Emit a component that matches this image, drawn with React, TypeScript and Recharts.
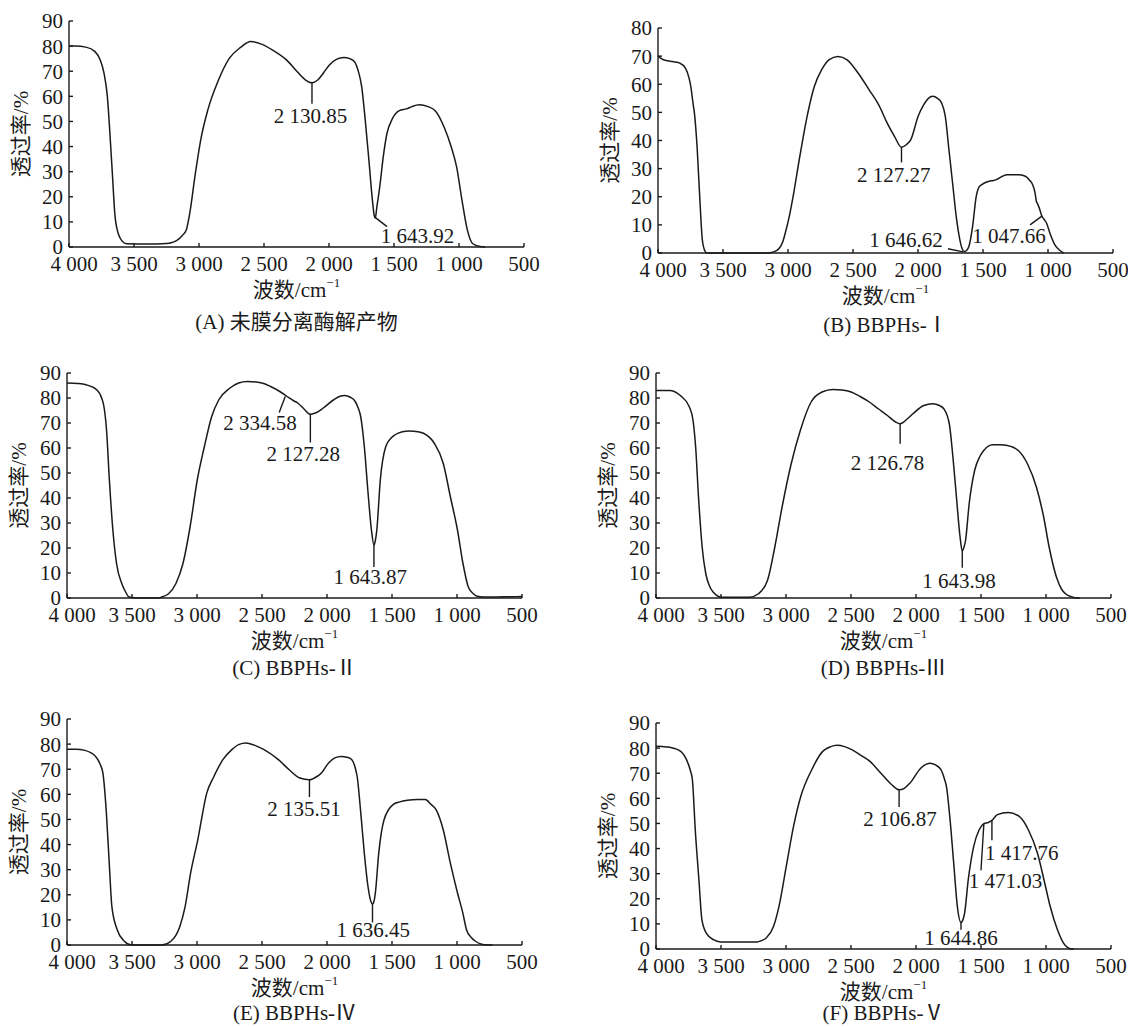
import { LineChart, Line, XAxis, YAxis, ReferenceLine, ReferenceDot, Label } from "recharts";
import type { CSSProperties } from "react";

const FONT = '"Liberation Serif", "Times New Roman", "Noto Sans CJK SC", serif';
const INK = "#1a1a1a";

const X_TICKS = [4000, 3500, 3000, 2500, 2000, 1500, 1000, 500];
const Y_TICKS_90 = [0, 10, 20, 30, 40, 50, 60, 70, 80, 90];
const Y_TICKS_80 = [0, 10, 20, 30, 40, 50, 60, 70, 80];

// (A) 未膜分离酶解产物
const wavesA = [4000, 3950, 3870, 3800, 3760, 3730, 3705, 3685, 3665, 3648, 3625, 3606, 3580, 3556, 3400, 3250, 3207, 3170, 3130, 3098, 3071, 3028, 2987, 2932, 2850, 2767, 2680, 2602, 2520, 2437, 2327, 2244, 2180, 2131, 2087, 2040, 1997, 1940, 1887, 1840, 1804, 1776, 1748, 1721, 1693, 1666, 1652, 1644, 1632, 1610, 1583, 1555, 1514, 1459, 1404, 1362, 1307, 1238, 1183, 1114, 1059, 1018, 977, 935, 894, 839, 798];
const transA = [80, 80, 79.6, 77.8, 74.5, 69, 60, 45, 28, 13.5, 6, 3.5, 1.8, 1.3, 1.2, 1.4, 1.8, 2.6, 4.5, 6.8, 13.5, 29.3, 42.6, 54.6, 66.5, 75.1, 79.5, 81.8, 80.8, 78.5, 74.5, 69.8, 66.5, 65.4, 66.5, 69.5, 72.5, 74.8, 75.5, 75, 73.8, 70.3, 63.7, 50.4, 34.5, 18.6, 12.5, 11.5, 15.9, 23.8, 35.8, 45, 50.9, 54.3, 55, 55.9, 56.6, 55.9, 54.3, 47.7, 39.7, 31.8, 18.6, 6.6, 1.3, 0.2, 0];

// (B) BBPHs-Ⅰ
const wavesB = [4000, 3958, 3880, 3832, 3790, 3760, 3748, 3730, 3720, 3698, 3678, 3659, 3640, 3625, 3150, 3119, 3077, 3040, 3021, 2990, 2965, 2909, 2853, 2797, 2741, 2685, 2615, 2545, 2461, 2377, 2300, 2237, 2181, 2127, 2090, 2055, 1999, 1957, 1920, 1887, 1850, 1818, 1790, 1762, 1734, 1706, 1678, 1660, 1645, 1625, 1608, 1580, 1552, 1530, 1510, 1454, 1420, 1398, 1350, 1314, 1230, 1174, 1140, 1118, 1100, 1090, 1078, 1062, 1049, 1030, 1010, 985, 946, 910, 880];
const transB = [70, 68.7, 68, 67.5, 65.8, 62, 59.3, 53, 49.8, 36.7, 19, 4.7, 0.8, 0, 0, 0.3, 1.2, 4, 7.1, 13, 19, 34.4, 48.6, 59.3, 65.2, 68.7, 69.9, 68.7, 64, 58.1, 52.5, 46.2, 41.5, 37.6, 38.5, 40.3, 48.6, 52.7, 55, 55.7, 55, 53.3, 48.6, 36.7, 24.9, 13, 4.7, 1.5, 0.5, 1, 2.4, 9.5, 20.1, 23.5, 24.3, 25.5, 25.8, 26.1, 27.3, 27.8, 27.8, 27.3, 25.8, 24.3, 21.5, 18.5, 17.3, 15.3, 13.3, 12, 10.5, 7, 2.8, 1, 0];

// (C) BBPHs-Ⅱ
const wavesC = [4000, 3920, 3854, 3771, 3730, 3716, 3696, 3674, 3647, 3619, 3578, 3550, 3522, 3450, 3301, 3260, 3219, 3163, 3108, 3053, 2998, 2943, 2887, 2832, 2749, 2680, 2611, 2501, 2430, 2363, 2307, 2260, 2225, 2175, 2128, 2080, 2031, 1948, 1900, 1865, 1820, 1783, 1760, 1741, 1713, 1686, 1658, 1639, 1628, 1617, 1590, 1548, 1510, 1479, 1420, 1369, 1300, 1258, 1175, 1106, 1051, 996, 954, 913, 870, 844, 800, 700, 600, 500];
const transC = [86, 85.8, 85.3, 83.3, 79.5, 76.6, 67.3, 47.2, 27.1, 13.8, 5.7, 2.5, 0.4, 0, 0, 0.6, 1.7, 5.7, 13.8, 28.5, 47.2, 60.6, 72.6, 79.3, 83.9, 86, 86.6, 86, 84.5, 82.6, 80.6, 79, 78, 75.5, 73.5, 74.2, 75.9, 79.3, 80.7, 81, 80.3, 78.6, 76, 72.6, 60.6, 43.2, 27.1, 21.1, 23, 27.1, 47.2, 60.6, 63.8, 65.2, 66.5, 66.8, 66.5, 65.9, 61.9, 53.9, 40.5, 27.1, 13.8, 4.4, 1.5, 0.7, 0.4, 0.4, 0.5, 0.6];

// (D) BBPHs-Ⅲ
const wavesD = [4000, 3950, 3897, 3813, 3743, 3715, 3695, 3673, 3645, 3617, 3590, 3561, 3491, 3282, 3212, 3142, 3086, 3030, 2960, 2890, 2807, 2723, 2639, 2570, 2499, 2430, 2359, 2290, 2220, 2160, 2122, 2070, 2024, 1940, 1870, 1820, 1786, 1744, 1716, 1689, 1661, 1644, 1630, 1619, 1591, 1549, 1510, 1479, 1409, 1350, 1297, 1213, 1143, 1074, 1018, 976, 920, 880, 850, 800, 766, 740];
const transD = [83, 83, 83, 81, 76.4, 71, 60.4, 40.4, 20.4, 9.7, 5, 2.4, 0.3, 0.3, 1.7, 7.1, 20.4, 36.4, 53.7, 67, 78.4, 82.4, 83.4, 83.2, 82.4, 80.6, 78.4, 75.7, 73, 70.5, 69.7, 71.5, 73.7, 77, 77.7, 77, 75.7, 69.7, 56.4, 40.4, 24.4, 18.8, 20.5, 23, 37.7, 51, 56.5, 59, 61.3, 61.3, 61, 59, 53.7, 44.4, 32.4, 20.4, 8.4, 3.5, 1.7, 0.4, 0, 0];

// (E) BBPHs-Ⅳ
const wavesE = [4000, 3930, 3862, 3780, 3745, 3724, 3697, 3675, 3655, 3614, 3559, 3504, 3270, 3201, 3132, 3091, 3049, 2994, 2925, 2870, 2801, 2732, 2680, 2622, 2560, 2484, 2374, 2291, 2209, 2135, 2080, 2043, 1988, 1940, 1892, 1840, 1809, 1780, 1768, 1740, 1713, 1685, 1660, 1650, 1638, 1628, 1602, 1561, 1492, 1440, 1382, 1300, 1244, 1200, 1161, 1106, 1051, 996, 955, 927, 890, 858, 810, 775, 726];
const transE = [78, 78, 77.5, 75.1, 72, 68.5, 52.5, 32.6, 15.4, 6.1, 1.5, 0, 0, 1.5, 7.4, 15.4, 28.7, 41.9, 60.5, 67.1, 73.8, 77.8, 79.8, 80.4, 79.6, 77.8, 73.8, 69.8, 66.5, 65.8, 67, 68.5, 72.5, 74.5, 75.1, 74.7, 73.8, 70, 67.1, 52.5, 36.6, 23.4, 17, 16.3, 17.5, 20.7, 36.6, 49.9, 55.9, 57, 57.6, 57.9, 57.9, 56, 53.9, 45.9, 32.6, 20.7, 12.7, 6.1, 3, 1.5, 0.3, 0, 0];

// (F) BBPHs-Ⅴ
const wavesF = [4000, 3950, 3894, 3810, 3754, 3735, 3720, 3698, 3670, 3647, 3614, 3558, 3502, 3222, 3190, 3152, 3096, 3054, 2998, 2942, 2886, 2802, 2718, 2660, 2606, 2550, 2494, 2420, 2354, 2270, 2186, 2130, 2090, 2046, 1962, 1920, 1892, 1850, 1808, 1780, 1766, 1738, 1710, 1682, 1654, 1640, 1626, 1598, 1556, 1514, 1478, 1444, 1416, 1374, 1290, 1206, 1136, 1066, 1010, 968, 912, 856, 800, 786];
const transF = [80.7, 80.6, 80.3, 78.7, 74, 71, 67.4, 47.5, 27.6, 11.7, 6.4, 3.7, 2.8, 2.8, 3.3, 4.4, 9, 17, 32.9, 48.8, 60.8, 71.4, 78.7, 80.5, 81.1, 80.6, 79.4, 77, 74.7, 70, 65.4, 63.4, 64, 66.1, 72.1, 73.6, 74, 73.3, 71.4, 67.5, 64.8, 51.5, 34.2, 17, 10.6, 11.5, 14.3, 27.6, 40.9, 47.5, 49.9, 50.4, 51.2, 53.5, 54.4, 52.8, 47.5, 38.2, 26.3, 17, 7.7, 1.7, 0, 0];

// peak marks: leader line [from, to] and label centre, all in (wavenumber, %)
type Mark = { text: string; line: [number, number][]; at: [number, number] };

const marksA: Mark[] = [
  { text: "2 130.85", line: [[2131, 65.4], [2131, 57]], at: [2143, 52] },
  { text: "1 643.92", line: [[1645, 11.8], [1554, 8.1]], at: [1319, 4.4] },
];
const marksB: Mark[] = [
  { text: "2 127.27", line: [[2127, 37.6], [2127, 32.2]], at: [2187, 27.8] },
  { text: "1 646.62", line: [[1770, 1.5], [1652, 0.4]], at: [2092, 4.7] },
  { text: "1 047.66", line: [[1138, 10], [1045, 13.2]], at: [1300, 5.9] },
];
const marksC: Mark[] = [
  { text: "2 334.58", line: [[2321, 80.6], [2368, 74.2]], at: [2515, 69.9] },
  { text: "2 127.28", line: [[2128, 73.5], [2128, 62.2]], at: [2183, 57.8] },
  { text: "1 643.87", line: [[1639, 21.1], [1639, 12.4]], at: [1667, 8.3] },
];
const marksD: Mark[] = [
  { text: "2 126.78", line: [[2122, 69.7], [2122, 61.7]], at: [2220, 54.1] },
  { text: "1 643.98", line: [[1644, 18.8], [1644, 12.1]], at: [1669, 6.9] },
];
const marksE: Mark[] = [
  { text: "2 135.51", line: [[2135, 65.8], [2135, 58.9]], at: [2176, 54.1] },
  { text: "1 636.45", line: [[1650, 16.3], [1650, 9]], at: [1644, 5.8] },
];
const marksF: Mark[] = [
  { text: "2 106.87", line: [[2130, 63.4], [2130, 56.5]], at: [2124, 51.9] },
  { text: "1 644.86", line: [[1654, 10.6], [1654, 7.7]], at: [1654, 4.4] },
  { text: "1 471.03", line: [[1478, 49.9], [1500, 31.3]], at: [1312, 27.2] },
  { text: "1 417.76", line: [[1416, 51.2], [1416, 43.3]], at: [1186, 38.4] },
];

interface Box { x: number; y: number; w: number; h: number; cap: number }

interface PanelProps {
  box: Box;
  waves: number[];
  trans: number[];
  yMax: number;
  marks: Mark[];
  caption: string;
}

const PAD_L = 66;
const PAD_R = 40;
const PAD_T = 14;
const PAD_B = 90;

const fmtWave = (v: number) =>
  v >= 1000 ? `${Math.floor(v / 1000)} ${String(v % 1000).padStart(3, "0")}` : String(v);

// x tick text; the first label sits a little right of its tick, clear of the "0"
function WaveTick(p: any) {
  const v = p.payload.value;
  return (
    <text
      x={p.x + (v === 4000 ? 5 : 0)}
      y={p.y}
      dy="0.71em"
      textAnchor="middle"
      fontSize={21}
      fontFamily={FONT}
      fill={INK}
    >
      {fmtWave(v)}
    </text>
  );
}

function Panel({ box, waves, trans, yMax, marks, caption }: PanelProps) {
  const data = waves.map((w, i) => ({ w, t: trans[i] }));
  const W = box.w + PAD_L + PAD_R;
  const H = box.h + PAD_T + PAD_B;
  const wrap: CSSProperties = { position: "absolute", left: box.x - PAD_L, top: box.y - PAD_T };
  const tick = { fill: INK, fontSize: 21, fontFamily: FONT };

  return (
    <div style={wrap}>
      <LineChart width={W} height={H} data={data} margin={{ top: PAD_T, right: PAD_R, bottom: 0, left: 0 }}>
        <XAxis
          type="number"
          dataKey="w"
          domain={[500, 4000]}
          reversed
          ticks={X_TICKS}
          interval={0}
          tickSize={-4}
          tickMargin={13}
          height={PAD_B}
          tick={<WaveTick />}
          axisLine={{ stroke: INK, strokeWidth: 1.4 }}
          tickLine={{ stroke: INK, strokeWidth: 1.4 }}
        >
          <Label
            content={(p: any) => {
              const vb = p.viewBox;
              const cx = vb.x + vb.width / 2;
              return (
                <g fontFamily={FONT} fill={INK}>
                  <text x={cx} y={vb.y + 43} textAnchor="middle" dominantBaseline="central" fontSize={21}>
                    波数/cm<tspan fontSize={13} dy={-8}>−1</tspan>
                  </text>
                  <text x={cx} y={vb.y + box.cap} textAnchor="middle" dominantBaseline="central" fontSize={21}>
                    {caption}
                  </text>
                </g>
              );
            }}
          />
        </XAxis>
        <YAxis
          type="number"
          domain={[0, yMax]}
          ticks={yMax === 80 ? Y_TICKS_80 : Y_TICKS_90}
          interval={0}
          tickSize={-4}
          tickMargin={10}
          width={PAD_L}
          tick={tick}
          axisLine={{ stroke: INK, strokeWidth: 1.4 }}
          tickLine={{ stroke: INK, strokeWidth: 1.4 }}
        >
          <Label
            content={(p: any) => {
              const vb = p.viewBox;
              const x = vb.x + vb.width - 48;
              const y = vb.y + vb.height / 2;
              return (
                <text
                  x={x}
                  y={y}
                  transform={`rotate(-90 ${x} ${y})`}
                  textAnchor="middle"
                  dominantBaseline="central"
                  fontSize={21}
                  fontFamily={FONT}
                  fill={INK}
                >
                  透过率/%
                </text>
              );
            }}
          />
        </YAxis>
        <Line
          dataKey="t"
          type="monotone"
          dot={false}
          activeDot={false}
          stroke={INK}
          strokeWidth={1.5}
          isAnimationActive={false}
        />
        {marks.map((m) => (
          <ReferenceLine
            key={`l-${m.text}`}
            segment={[
              { x: m.line[0][0], y: m.line[0][1] },
              { x: m.line[1][0], y: m.line[1][1] },
            ]}
            stroke={INK}
            strokeWidth={1.4}
          />
        ))}
        {marks.map((m) => (
          <ReferenceDot
            key={`t-${m.text}`}
            x={m.at[0]}
            y={m.at[1]}
            r={0}
            shape={(p: any) => (
              <text
                x={p.cx}
                y={p.cy}
                textAnchor="middle"
                dominantBaseline="central"
                fontSize={21}
                fontFamily={FONT}
                fill={INK}
              >
                {m.text}
              </text>
            )}
          />
        ))}
      </LineChart>
    </div>
  );
}

export default function App() {
  return (
    <div style={page}>
      <Panel box={{ x: 69, y: 21, w: 455, h: 226, cap: 75 }} waves={wavesA} trans={transA} yMax={90} marks={marksA} caption="(A) 未膜分离酶解产物" />
      <Panel box={{ x: 658, y: 28, w: 455, h: 225, cap: 72 }} waves={wavesB} trans={transB} yMax={80} marks={marksB} caption="(B) BBPHs-Ⅰ" />
      <Panel box={{ x: 67, y: 373, w: 455, h: 225, cap: 70 }} waves={wavesC} trans={transC} yMax={90} marks={marksC} caption="(C) BBPHs-Ⅱ" />
      <Panel box={{ x: 656, y: 373, w: 455, h: 225, cap: 70 }} waves={wavesD} trans={transD} yMax={90} marks={marksD} caption="(D) BBPHs-Ⅲ" />
      <Panel box={{ x: 67, y: 719, w: 455, h: 226, cap: 68 }} waves={wavesE} trans={transE} yMax={90} marks={marksE} caption="(E) BBPHs-Ⅳ" />
      <Panel box={{ x: 656, y: 723, w: 455, h: 226, cap: 64 }} waves={wavesF} trans={transF} yMax={90} marks={marksF} caption="(F) BBPHs-Ⅴ" />
    </div>
  );
}

const page: CSSProperties = {
  position: "absolute",
  left: 0,
  top: 0,
  width: 1128,
  height: 1027,
  overflow: "hidden",
  background: "#fff",
};
